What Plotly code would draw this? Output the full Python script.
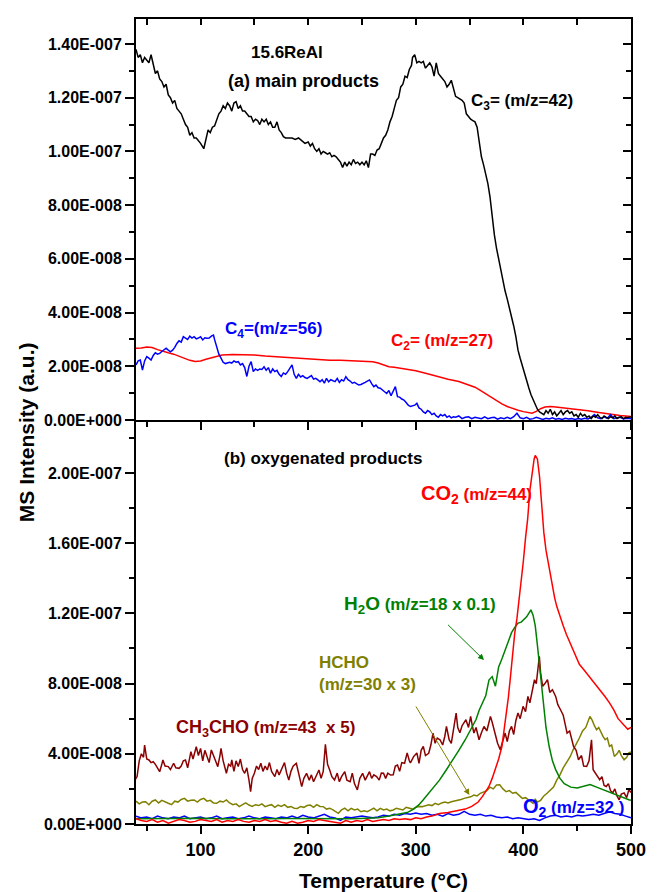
import plotly.graph_objects as go

FONT = "Liberation Sans, Arial, sans-serif"
UNIT = 1e-8  # all intensities below are in units of 1e-8

# ---------------- (a) main products: (temperature °C, intensity) ----------------
c3_pts = [
    (40, 13.8), (42, 13.5), (44, 13.6), (46, 13.3), (48, 13.5), (50, 13.4), (52, 13.3), (54, 13.6),
    (56, 13.3), (58, 12.9), (60, 13.0), (62, 12.7), (64, 12.6), (66, 12.4), (68, 12.5), (70, 12.1),
    (72, 12.0), (74, 11.8), (76, 11.9), (78, 11.6), (80, 11.5), (82, 11.4), (84, 11.2), (86, 11.0),
    (88, 10.9), (90, 10.6), (92, 10.7), (94, 10.5), (96, 10.5), (98, 10.4), (100, 10.3), (103, 10.1),
    (105, 10.4), (107, 10.8), (109, 10.7), (111, 10.9), (113, 10.95), (115, 11.2), (117, 11.4),
    (119, 11.5), (121, 11.7), (123, 11.6), (125, 11.8), (127, 11.7), (129, 11.5), (131, 11.8),
    (133, 11.85), (135, 11.6), (137, 11.7), (139, 11.5), (141, 11.5), (143, 11.4), (145, 11.3),
    (147, 11.3), (149, 11.1), (151, 11.2), (153, 11.15), (155, 11.0), (157, 11.2), (159, 11.1),
    (161, 11.2), (163, 11.0), (165, 11.1), (167, 10.9), (169, 10.9), (171, 11.1), (173, 10.8),
    (175, 10.7), (177, 10.55), (179, 10.5), (182, 10.5), (185, 10.5), (188, 10.45), (191, 10.5),
    (194, 10.4), (197, 10.3), (200, 10.35), (202, 10.2), (204, 10.3), (206, 10.1), (208, 10.0),
    (210, 10.1), (212, 9.9), (214, 10.0), (216, 9.95), (218, 9.9), (220, 9.95), (222, 9.8),
    (224, 9.85), (226, 9.8), (228, 9.7), (230, 9.6), (232, 9.4), (234, 9.6), (236, 9.45), (238, 9.6),
    (240, 9.5), (242, 9.7), (244, 9.55), (246, 9.6), (248, 9.5), (250, 9.6), (252, 9.5), (254, 9.65),
    (256, 9.4), (258, 9.9), (260, 9.9), (262, 9.85), (264, 10.05), (266, 10.1), (268, 10.3),
    (270, 10.5), (272, 10.6), (274, 10.8), (276, 11.1), (278, 11.3), (280, 11.6), (282, 11.9),
    (284, 12.0), (286, 12.4), (288, 12.5), (290, 12.8), (292, 12.75), (294, 13.05), (296, 13.2),
    (297, 13.5), (299, 13.6), (301, 13.3), (303, 13.35), (305, 13.3), (307, 13.35), (309, 13.1),
    (311, 13.2), (313, 13.3), (315, 13.15), (317, 12.8), (319, 13.3), (321, 12.9), (323, 12.8),
    (325, 12.7), (327, 12.6), (329, 12.4), (331, 12.5), (333, 12.65), (335, 12.3), (337, 12.05),
    (339, 12.0), (341, 11.95), (343, 11.9), (345, 11.8), (347, 11.4), (349, 11.3), (351, 11.2),
    (353, 11.15), (355, 11.1), (357, 10.9), (359, 10.3), (361, 9.8), (363, 9.5), (365, 9.2),
    (367, 8.8), (369, 8.3), (371, 7.5), (373, 6.9), (375, 6.4), (377, 6.0), (379, 5.6), (381, 5.1),
    (383, 4.8), (385, 4.5), (387, 4.2), (389, 3.9), (391, 3.5), (393, 3.1), (395, 2.6), (397, 2.3),
    (399, 2.0), (401, 1.7), (403, 1.5), (405, 1.2), (407, 0.95), (409, 0.75), (411, 0.55), (413, 0.4),
    (415, 0.3), (417, 0.25), (419, 0.2), (421, 0.35), (423, 0.25), (425, 0.4), (427, 0.2), (429, 0.3),
    (431, 0.15), (433, 0.25), (435, 0.35), (437, 0.2), (439, 0.3), (441, 0.35), (443, 0.25),
    (445, 0.3), (447, 0.15), (449, 0.2), (451, 0.1), (453, 0.25), (455, 0.15), (457, 0.2), (459, 0.1),
    (461, 0.15), (463, 0.05), (465, 0.15), (467, 0.1), (469, 0.2), (471, 0.1), (473, 0.05),
    (475, 0.15), (477, 0.1), (479, 0.05), (481, 0.12), (483, 0.08), (485, 0.15), (487, 0.05),
    (489, 0.1), (491, 0.12), (493, 0.05), (495, 0.1), (497, 0.08), (499, 0.12), (500, 0.1),
]

c4_pts = [
    (40, 2.05), (42, 2.2), (44, 2.23), (46, 1.86), (48, 2.2), (50, 2.36), (52, 2.3), (54, 2.23),
    (56, 2.4), (58, 2.5), (60, 2.45), (62, 2.48), (64, 2.55), (66, 2.6), (68, 2.67), (70, 2.6),
    (72, 2.54), (74, 2.6), (76, 2.7), (78, 2.85), (80, 2.95), (82, 2.9), (84, 3.1), (86, 3.05),
    (88, 3.0), (90, 3.12), (92, 3.05), (94, 3.1), (96, 3.02), (98, 3.05), (100, 3.1), (102, 2.98),
    (104, 3.06), (106, 3.04), (108, 3.05), (110, 3.12), (112, 3.16), (113, 3.0), (115, 2.7),
    (117, 2.45), (119, 2.3), (121, 2.15), (123, 2.1), (125, 2.12), (127, 2.15), (129, 2.12),
    (131, 2.2), (133, 2.15), (135, 2.17), (137, 2.05), (139, 2.1), (141, 1.95), (143, 1.62),
    (145, 2.0), (147, 2.17), (149, 1.8), (151, 1.9), (153, 1.85), (155, 1.9), (157, 1.88), (159, 1.98),
    (161, 1.85), (163, 1.95), (165, 1.74), (167, 1.9), (169, 1.8), (171, 1.85), (173, 1.7),
    (175, 1.62), (177, 1.75), (179, 1.7), (181, 1.8), (183, 1.95), (185, 2.05), (187, 1.7),
    (189, 1.55), (191, 1.7), (193, 1.6), (195, 1.65), (197, 1.58), (199, 1.55), (201, 1.6),
    (203, 1.65), (205, 1.52), (207, 1.55), (209, 1.49), (211, 1.42), (213, 1.5), (215, 1.37),
    (217, 1.55), (219, 1.42), (221, 1.5), (223, 1.45), (225, 1.43), (227, 1.55), (229, 1.4),
    (231, 1.5), (233, 1.45), (235, 1.61), (237, 1.5), (239, 1.45), (241, 1.37), (243, 1.4),
    (245, 1.35), (247, 1.3), (249, 1.32), (251, 1.35), (253, 1.4), (255, 1.45), (257, 1.49),
    (259, 1.35), (261, 1.24), (263, 1.3), (265, 1.2), (267, 1.18), (269, 1.1), (271, 1.05),
    (273, 0.99), (275, 1.1), (277, 0.9), (279, 1.05), (281, 1.24), (283, 0.87), (285, 0.85),
    (287, 0.78), (289, 0.74), (291, 0.65), (293, 0.55), (295, 0.5), (297, 0.52), (299, 0.55),
    (301, 0.62), (303, 0.45), (305, 0.4), (307, 0.3), (309, 0.25), (311, 0.35), (313, 0.3),
    (315, 0.2), (317, 0.25), (319, 0.15), (321, 0.1), (323, 0.2), (325, 0.15), (327, 0.2), (329, 0.1),
    (331, 0.15), (333, 0.08), (335, 0.12), (337, 0.1), (340, 0.15), (343, 0.05), (346, 0.1),
    (349, 0.12), (352, 0.05), (355, 0.1), (358, 0.08), (361, 0.05), (364, 0.12), (367, 0.05),
    (370, 0.08), (373, 0.1), (376, 0.03), (379, 0.08), (382, 0.05), (385, 0.1), (388, 0.05),
    (391, 0.12), (394, 0.25), (397, 0.08), (400, 0.05), (403, 0.1), (406, 0.03), (409, 0.05),
    (412, 0.1), (415, 0.05), (418, 0.02), (421, 0.06), (424, 0.04), (427, 0.08), (430, 0.03),
    (433, 0.05), (436, 0.02), (439, 0.06), (442, 0.04), (445, 0.05), (448, 0.02), (451, 0.05),
    (454, 0.03), (457, 0.06), (460, 0.04), (463, 0.1), (466, 0.2), (469, 0.08), (472, 0.05),
    (475, 0.12), (478, 0.06), (481, 0.2), (484, 0.05), (487, 0.08), (490, 0.1), (493, 0.04),
    (496, 0.06), (500, 0.05),
]

c2_pts = [
    (40, 2.67), (45, 2.68), (50, 2.72), (55, 2.7), (60, 2.62), (65, 2.55), (70, 2.5), (75, 2.45),
    (80, 2.38), (85, 2.3), (90, 2.22), (95, 2.18), (100, 2.2), (105, 2.26), (110, 2.32), (115, 2.38),
    (120, 2.42), (130, 2.44), (140, 2.43), (150, 2.42), (160, 2.38), (170, 2.35), (180, 2.33),
    (190, 2.3), (200, 2.27), (210, 2.23), (220, 2.22), (230, 2.22), (240, 2.21), (250, 2.2),
    (260, 2.17), (265, 2.12), (270, 2.04), (275, 1.98), (280, 1.96), (290, 1.9), (300, 1.83),
    (310, 1.73), (320, 1.62), (330, 1.52), (340, 1.43), (350, 1.3), (355, 1.22), (360, 1.1),
    (365, 0.97), (370, 0.85), (375, 0.72), (380, 0.6), (385, 0.5), (390, 0.42), (395, 0.36),
    (400, 0.31), (405, 0.26), (408, 0.25), (412, 0.32), (416, 0.42), (420, 0.48), (425, 0.5),
    (430, 0.48), (440, 0.44), (450, 0.39), (460, 0.34), (470, 0.28), (480, 0.22), (490, 0.17),
    (500, 0.13),
]

# ---------------- (b) oxygenated products ----------------
co2_pts = [
    (40, 0.3), (45, 0.2), (50, 0.15), (55, 0.25), (60, 0.1), (65, 0.2), (70, 0.05), (75, 0.15),
    (80, 0.25), (85, 0.2), (90, 0.1), (95, 0.15), (100, 0.25), (105, 0.2), (110, 0.15), (115, 0.25),
    (120, 0.1), (125, 0.2), (130, 0.15), (135, 0.25), (140, 0.15), (145, 0.1), (150, 0.2),
    (155, 0.15), (160, 0.25), (165, 0.15), (170, 0.2), (175, 0.1), (180, 0.05), (185, 0.15),
    (190, 0.05), (195, 0.1), (200, 0.2), (205, 0.15), (210, 0.25), (215, 0.2), (220, 0.15),
    (225, 0.1), (230, 0.05), (235, 0.2), (240, 0.1), (245, 0.2), (250, 0.15), (255, 0.25),
    (260, 0.15), (265, 0.2), (270, 0.25), (275, 0.2), (280, 0.3), (285, 0.25), (290, 0.3),
    (295, 0.25), (300, 0.35), (305, 0.3), (310, 0.4), (315, 0.45), (322, 0.6), (330, 0.65),
    (340, 0.8), (346, 0.85), (352, 1.0), (358, 1.25), (362, 1.57), (365, 1.85), (368, 2.14),
    (371, 2.6), (374, 3.1), (377, 3.7), (380, 4.4), (382, 5.3), (384, 6.1), (386, 7.2), (388, 8.4),
    (390, 9.8), (392, 10.9), (394, 11.7), (396, 12.7), (398, 13.9), (400, 15.0), (402, 16.3),
    (404, 17.4), (406, 19.0), (408, 20.0), (410, 20.8), (411, 21.0), (413, 20.8), (415, 19.8),
    (417, 18.0), (419, 16.6), (421, 15.6), (423, 14.9), (425, 14.2), (427, 13.5), (429, 12.9),
    (431, 12.4), (434, 11.8), (437, 11.3), (440, 10.8), (444, 10.2), (448, 9.6), (452, 9.1),
    (456, 8.8), (460, 8.5), (464, 8.2), (468, 7.85), (472, 7.55), (476, 7.25), (480, 6.9),
    (484, 6.5), (488, 6.0), (491, 5.8), (494, 5.6), (497, 5.4), (500, 5.5),
]

h2o_pts = [
    (40, 0.3), (60, 0.32), (80, 0.3), (100, 0.33), (120, 0.3), (140, 0.32), (160, 0.3), (180, 0.31),
    (200, 0.3), (220, 0.32), (240, 0.3), (255, 0.33), (265, 0.36), (275, 0.45), (285, 0.55),
    (292, 0.65), (298, 0.85), (303, 1.1), (307, 1.38), (312, 1.75), (317, 2.1), (322, 2.5),
    (328, 3.05), (334, 3.6), (340, 4.2), (346, 4.8), (351, 5.4), (356, 5.95), (359, 6.5), (362, 6.9),
    (365, 7.3), (368, 8.2), (371, 8.4), (374, 7.85), (377, 8.95), (380, 9.4), (383, 9.9),
    (386, 10.4), (389, 10.9), (392, 11.2), (395, 11.45), (398, 11.5), (401, 11.7), (403, 11.8),
    (405, 12.0), (407, 12.2), (409, 11.9), (411, 11.3), (413, 10.2), (415, 9.0), (417, 7.8),
    (419, 6.5), (421, 5.5), (424, 4.4), (427, 3.6), (430, 3.1), (434, 2.6), (438, 2.3), (444, 2.1),
    (450, 2.05), (456, 2.15), (462, 2.25), (468, 2.1), (474, 1.95), (480, 1.8), (486, 1.67),
    (492, 1.5), (498, 1.38), (500, 1.35),
]

ch3cho_pts = [
    (39, 2.5), (41, 2.7), (43, 3.6), (45, 4.0), (47, 3.8), (48, 4.5), (50, 3.7), (52, 3.65),
    (54, 3.5), (56, 3.55), (58, 3.4), (60, 3.2), (62, 2.98), (64, 3.4), (65, 3.65), (67, 3.3),
    (70, 3.27), (72, 3.1), (75, 3.46), (77, 3.2), (80, 3.17), (82, 3.3), (84, 3.6), (86, 3.65),
    (88, 3.2), (90, 3.8), (91, 4.12), (93, 3.7), (95, 4.2), (96, 4.4), (98, 3.9), (100, 4.31),
    (102, 3.6), (104, 4.2), (106, 3.84), (108, 3.5), (110, 4.22), (112, 3.9), (114, 3.5),
    (116, 3.27), (118, 3.9), (119, 4.31), (121, 3.6), (123, 3.2), (124, 2.89), (126, 3.4),
    (128, 3.3), (129, 3.65), (131, 3.0), (133, 3.6), (135, 3.27), (137, 3.7), (139, 3.1),
    (141, 2.89), (143, 3.2), (145, 2.5), (146.5, 1.84), (148, 2.6), (150, 2.89), (152, 3.3),
    (154, 3.1), (156, 3.46), (158, 3.0), (160, 3.3), (162, 3.08), (164, 3.5), (166, 3.0),
    (169, 2.7), (171, 3.1), (173, 2.8), (176, 3.27), (178, 3.5), (180, 2.9), (182, 2.51),
    (184, 3.0), (186, 3.3), (189, 3.46), (191, 2.9), (194, 2.13), (196, 2.6), (198.5, 2.89),
    (201, 2.5), (203, 2.8), (205, 2.41), (207, 2.7), (210, 3.08), (212, 2.6), (214, 3.0),
    (216, 4.54), (218, 3.4), (220, 3.08), (222, 2.7), (224.5, 2.51), (227, 2.9), (229, 2.41),
    (231, 2.7), (234, 2.98), (236, 2.5), (239, 2.41), (241, 2.9), (243, 2.3), (245.7, 1.94),
    (248, 2.6), (250.6, 2.89), (253, 2.5), (255, 2.7), (257, 2.98), (259, 2.6), (261, 2.8),
    (263.6, 2.7), (266, 2.5), (268, 2.9), (270, 2.89), (272, 2.6), (274, 2.9), (276.6, 2.79),
    (279, 2.8), (281, 3.3), (283, 3.36), (285, 3.0), (287, 3.5), (289.6, 3.46), (292, 4.05),
    (294, 3.6), (295, 3.48), (298, 3.84), (301, 4.05), (303, 3.46), (305, 4.2), (307, 4.42),
    (309, 3.9), (312, 4.03), (314, 4.5), (316, 5.18), (318, 4.6), (320, 4.9), (322.5, 4.8),
    (325, 4.5), (327, 5.0), (328.5, 5.56), (331, 4.8), (333, 4.59), (335, 5.3), (337.5, 6.32),
    (339, 5.5), (341, 5.2), (343, 5.6), (346.6, 5.94), (349, 5.5), (351, 6.13), (352.5, 5.6),
    (354, 5.18), (356, 5.5), (358.8, 4.8), (361, 5.2), (363.4, 5.56), (366, 5.3), (369.4, 6.13),
    (371, 5.8), (374, 4.99), (376, 4.6), (378.5, 4.23), (380, 4.6), (383, 5.18), (385, 4.7),
    (387, 5.3), (389, 5.56), (391, 5.1), (393, 5.9), (395, 6.32), (397, 6.0), (399.7, 6.7),
    (402, 6.4), (404.2, 7.27), (406, 6.9), (408, 7.5), (410.3, 8.22), (412, 8.0), (414.8, 9.55),
    (416, 8.6), (417.9, 7.84), (420, 8.0), (422.4, 8.22), (424.5, 7.5), (427, 7.65), (430, 7.27),
    (432, 6.8), (434.5, 6.51), (437, 6.2), (440.6, 5.18), (443, 5.3), (446.6, 4.42), (449, 4.2),
    (451.2, 3.66), (454, 3.9), (456, 3.3), (458.8, 3.28), (461, 3.6), (463.3, 4.8), (464.8, 3.09),
    (467, 2.9), (470.9, 2.52), (473, 2.7), (475, 2.2), (477, 2.14), (479, 2.3), (481, 1.9),
    (483, 1.77), (485, 2.0), (487, 1.6), (489, 1.38), (491, 1.7), (493.6, 1.77), (496, 1.5),
    (498, 1.95), (500, 1.8),
]

hcho_pts = [
    (40, 1.3), (43, 1.15), (46, 1.25), (49, 1.27), (52, 1.1), (55, 1.3), (58, 1.37), (61, 1.2),
    (64, 1.35), (67, 1.25), (70, 1.18), (73, 1.1), (76, 1.3), (79, 1.25), (82, 1.4), (85, 1.46),
    (88, 1.3), (91, 1.35), (94, 1.37), (97, 1.25), (100, 1.4), (103, 1.46), (106, 1.3), (109, 1.35),
    (112, 1.2), (115, 1.18), (118, 1.3), (121, 1.25), (124, 1.37), (127, 1.2), (130, 1.1),
    (133, 1.15), (136, 0.99), (139, 1.1), (142, 1.2), (145, 1.08), (148, 1.0), (151, 1.1),
    (154, 1.05), (157, 1.15), (160, 0.99), (163, 1.05), (166, 1.1), (169, 0.95), (172, 1.08),
    (175, 1.0), (178, 1.1), (181, 0.95), (184, 1.0), (187, 0.9), (190, 0.89), (193, 1.0),
    (196, 0.95), (199, 1.05), (202, 1.08), (205, 0.95), (208, 1.1), (211, 1.0), (214, 0.99),
    (217, 0.85), (220, 0.9), (223, 0.8), (226, 0.7), (228, 0.61), (231, 0.8), (234, 0.9),
    (237, 0.75), (240, 0.89), (243, 0.8), (246, 0.85), (249, 0.7), (252, 0.75), (255, 0.7),
    (258, 0.8), (261, 0.9), (264, 0.75), (267, 0.89), (270, 0.8), (273, 0.85), (276, 0.75),
    (279, 0.8), (282, 0.9), (285, 0.85), (288, 0.8), (291, 0.95), (294, 0.89), (297, 0.85),
    (300, 0.95), (303, 1.0), (306, 0.99), (309, 1.05), (312, 1.1), (315, 1.05), (318, 1.18),
    (321, 1.1), (324, 1.2), (327, 1.25), (330, 1.2), (333, 1.27), (336, 1.3), (339, 1.35),
    (342, 1.4), (345, 1.46), (348, 1.5), (351, 1.55), (354, 1.65), (357, 1.6), (360, 1.75),
    (363, 1.84), (366, 1.9), (369, 2.1), (372, 2.0), (375, 2.22), (378, 2.24), (381, 2.0),
    (384, 1.84), (387, 1.9), (390, 1.75), (393, 1.8), (396, 1.6), (399, 1.46), (402, 1.5),
    (405, 1.37), (407, 1.29), (409, 1.18), (411, 1.4), (413, 1.25), (416, 1.35), (419, 1.6),
    (422, 1.75), (425, 1.9), (428, 2.1), (431, 2.5), (434, 2.8), (437, 3.2), (440, 3.5),
    (443.6, 3.85), (446, 4.2), (449.7, 4.6), (452, 4.9), (455, 5.3), (458, 5.5), (461.8, 6.13),
    (464, 5.9), (466, 5.6), (468, 5.37), (470, 5.5), (472, 5.2), (474, 4.99), (476, 4.8),
    (478, 4.9), (480, 4.42), (482, 4.5), (484.5, 3.85), (487, 4.0), (489, 4.2), (491, 3.9),
    (493.6, 3.66), (496, 3.8), (498, 4.05), (500, 4.1),
]

o2_pts = [
    (40, 0.45), (45, 0.35), (50, 0.4), (55, 0.3), (60, 0.45), (65, 0.35), (70, 0.3), (75, 0.4),
    (80, 0.35), (85, 0.45), (90, 0.3), (95, 0.35), (100, 0.4), (105, 0.3), (110, 0.35), (115, 0.45),
    (120, 0.3), (125, 0.35), (130, 0.4), (135, 0.3), (140, 0.35), (145, 0.45), (150, 0.35),
    (155, 0.3), (160, 0.4), (165, 0.35), (170, 0.3), (175, 0.4), (180, 0.35), (185, 0.45),
    (190, 0.35), (195, 0.5), (200, 0.4), (205, 0.35), (210, 0.45), (215, 0.55), (220, 0.4),
    (225, 0.35), (230, 0.2), (235, 0.4), (240, 0.35), (245, 0.4), (250, 0.45), (255, 0.4),
    (260, 0.35), (265, 0.4), (270, 0.5), (275, 0.45), (280, 0.55), (285, 0.5), (290, 0.6),
    (295, 0.55), (300, 0.62), (305, 0.55), (310, 0.6), (315, 0.5), (320, 0.55), (325, 0.45),
    (330, 0.6), (335, 0.5), (340, 0.55), (345, 0.72), (350, 0.55), (355, 0.5), (360, 0.55),
    (365, 0.45), (370, 0.5), (375, 0.4), (380, 0.35), (385, 0.4), (390, 0.3), (395, 0.35),
    (400, 0.3), (405, 0.25), (410, 0.3), (415, 0.2), (420, 0.35), (425, 0.45), (430, 0.5),
    (435, 0.4), (440, 0.45), (445, 0.4), (450, 0.5), (455, 0.45), (460, 0.5), (465, 0.55),
    (470, 0.5), (475, 0.6), (480, 0.7), (485, 0.6), (490, 0.55), (495, 0.45), (500, 0.35),
]

# ---------------- axis ticks ----------------
x_major = [100, 200, 300, 400, 500]
x_major_text = ["100", "200", "300", "400", "500"]
x_minor = [50, 150, 250, 350, 450]

top_major = [0, 2, 4, 6, 8, 10, 12, 14]
top_major_text = ["0.00E+000", "2.00E-008", "4.00E-008", "6.00E-008", "8.00E-008",
                  "1.00E-007", "1.20E-007", "1.40E-007"]
top_minor = [1, 3, 5, 7, 9, 11, 13]

bot_major = [0, 4, 8, 12, 16, 20]
bot_major_text = ["0.00E+000", "4.00E-008", "8.00E-008", "1.20E-007", "1.60E-007", "2.00E-007"]
bot_minor = [2, 6, 10, 14, 18, 22]

X_RANGE = [40, 500]
TOP_RANGE = [0, 14.93 * UNIT]
BOT_RANGE = [0, 23.02 * UNIT]
SPLIT = 0.5019

RED, BLUE, BLACK = "#FF0000", "#0000FF", "#000000"
GREEN, OLIVE, DARKRED = "#008000", "#808000", "#8B0000"


def scaled(vals):
    return [v * UNIT for v in vals]


fig = go.Figure()


def add_series(pts, color, xaxis, yaxis, width=1.5):
    t, v = zip(*pts)
    fig.add_trace(go.Scatter(x=list(t), y=scaled(v), mode="lines",
                             line=dict(color=color, width=width),
                             xaxis=xaxis, yaxis=yaxis, showlegend=False,
                             hoverinfo="skip"))


# top panel
add_series(c2_pts, RED, "x2", "y2")
add_series(c4_pts, BLUE, "x2", "y2")
add_series(c3_pts, BLACK, "x2", "y2")
# bottom panel
add_series(o2_pts, BLUE, "x", "y")
add_series(hcho_pts, OLIVE, "x", "y")
add_series(ch3cho_pts, DARKRED, "x", "y")
add_series(h2o_pts, GREEN, "x", "y")
add_series(co2_pts, RED, "x", "y")

# empty traces so the mirrored frame axes are drawn
fig.add_trace(go.Scatter(x=[None], y=[None], xaxis="x3", yaxis="y3", showlegend=False, hoverinfo="skip"))
fig.add_trace(go.Scatter(x=[None], y=[None], xaxis="x", yaxis="y4", showlegend=False, hoverinfo="skip"))

tick_font_y = dict(family=FONT, size=16, color="black", weight="bold")
tick_font_x = dict(family=FONT, size=18, color="black", weight="bold")
axis_common = dict(showline=True, linecolor="black", linewidth=2, showgrid=False,
                   zeroline=False, tickcolor="black", tickwidth=1.5)


def minor(vals, ticks, length):
    return dict(tickmode="array", tickvals=vals, ticks=ticks, ticklen=length,
                tickwidth=1.5, tickcolor="black", showgrid=False)


fig.update_layout(
    width=658, height=892,
    margin=dict(l=136, r=17, t=19, b=68),
    plot_bgcolor="white", paper_bgcolor="white",
    showlegend=False,
    xaxis=dict(**axis_common, domain=[0, 1], anchor="y", range=X_RANGE,
               ticks="outside", ticklen=8, tickmode="array",
               tickvals=x_major, ticktext=x_major_text, tickfont=tick_font_x,
               minor=minor(x_minor, "outside", 5)),
    yaxis=dict(**axis_common, domain=[0, SPLIT], anchor="x", range=BOT_RANGE,
               ticks="outside", ticklen=9, tickmode="array",
               tickvals=scaled(bot_major), ticktext=bot_major_text, tickfont=tick_font_y,
               minor=minor(scaled(bot_minor), "outside", 5)),
    xaxis2=dict(**axis_common, domain=[0, 1], anchor="y2", range=X_RANGE,
                ticks="outside", ticklen=8, tickmode="array", tickvals=x_major,
                showticklabels=False, minor=minor(x_minor, "outside", 5)),
    yaxis2=dict(**axis_common, domain=[SPLIT, 1], anchor="x2", range=TOP_RANGE,
                ticks="outside", ticklen=9, tickmode="array",
                tickvals=scaled(top_major), ticktext=top_major_text, tickfont=tick_font_y,
                minor=minor(scaled(top_minor), "outside", 5)),
    xaxis3=dict(**axis_common, overlaying="x2", anchor="y2", side="top", range=X_RANGE,
                ticks="inside", ticklen=6, tickmode="array",
                tickvals=x_major + x_minor, showticklabels=False),
    yaxis3=dict(**axis_common, overlaying="y2", anchor="x2", side="right", range=TOP_RANGE,
                ticks="inside", ticklen=8, tickmode="array", tickvals=scaled(top_major),
                showticklabels=False, minor=minor(scaled(top_minor), "inside", 5)),
    yaxis4=dict(**axis_common, overlaying="y", anchor="x", side="right", range=BOT_RANGE,
                ticks="inside", ticklen=8, tickmode="array", tickvals=scaled(bot_major),
                showticklabels=False, minor=minor(scaled(bot_minor), "inside", 5)),
)


def label(text, x, y, color, xref, yref, size=17, xanchor="left"):
    fig.add_annotation(text=text, x=x, y=y * UNIT, xref=xref, yref=yref,
                       xanchor=xanchor, yanchor="middle", showarrow=False, align="left",
                       font=dict(family=FONT, size=size, color=color, weight="bold"))


# panel (a) labels
label("15.6ReAl", 180, 13.70, BLACK, "x2", "y2", xanchor="center")
label("(a) main products", 195.5, 12.62, BLACK, "x2", "y2", size=18, xanchor="center")
label("C<sub>3</sub>= (m/z=42)", 349, 11.84, BLACK, "x2", "y2")
label("C<sub>4</sub>=(m/z=56)", 121, 3.35, BLUE, "x2", "y2")
label("C<sub>2</sub>= (m/z=27)", 275.5, 2.92, RED, "x2", "y2")

# panel (b) labels
label("(b) oxygenated products", 214, 20.8, BLACK, "x", "y", xanchor="center")
label("<span style='font-size:20px'>CO<sub>2</sub></span> (m/z=44)", 303, 18.8, RED, "x", "y")
label("<span style='font-size:19px'>H<sub>2</sub>O</span> (m/z=18 x 0.1)", 231, 12.5, GREEN, "x", "y")
label("HCHO<br>(m/z=30 x 3)", 208, 8.6, OLIVE, "x", "y")
label("<span style='font-size:18px'>CH<sub>3</sub>CHO</span> (m/z=43  x 5)", 75.5, 5.45, DARKRED, "x", "y")
label("<span style='font-size:20px'>O<sub>2</sub></span> (m/z=32 )", 398, 0.95, BLUE, "x", "y")

# pointer arrows
fig.add_annotation(x=363.4, y=9.34 * UNIT, ax=328.6, ay=11.43 * UNIT,
                   xref="x", yref="y", axref="x", ayref="y", text="",
                   showarrow=True, arrowhead=2, arrowsize=1.2, arrowwidth=1, arrowcolor=GREEN)
fig.add_annotation(x=349.8, y=1.65 * UNIT, ax=299.3, ay=6.78 * UNIT,
                   xref="x", yref="y", axref="x", ayref="y", text="",
                   showarrow=True, arrowhead=2, arrowsize=1.2, arrowwidth=1, arrowcolor=OLIVE)

# axis titles
fig.add_annotation(text="Temperature (°C)", x=0.5, y=-0.0696, xref="paper", yref="paper",
                   xanchor="center", yanchor="middle", showarrow=False,
                   font=dict(family=FONT, size=21, color="black", weight="bold"))
fig.add_annotation(text="MS Intensity (a.u.)", x=-0.2198, y=0.487, xref="paper", yref="paper",
                   xanchor="center", yanchor="middle", showarrow=False, textangle=-90,
                   font=dict(family=FONT, size=21, color="black", weight="bold"))

fig.write_html("out.html")
